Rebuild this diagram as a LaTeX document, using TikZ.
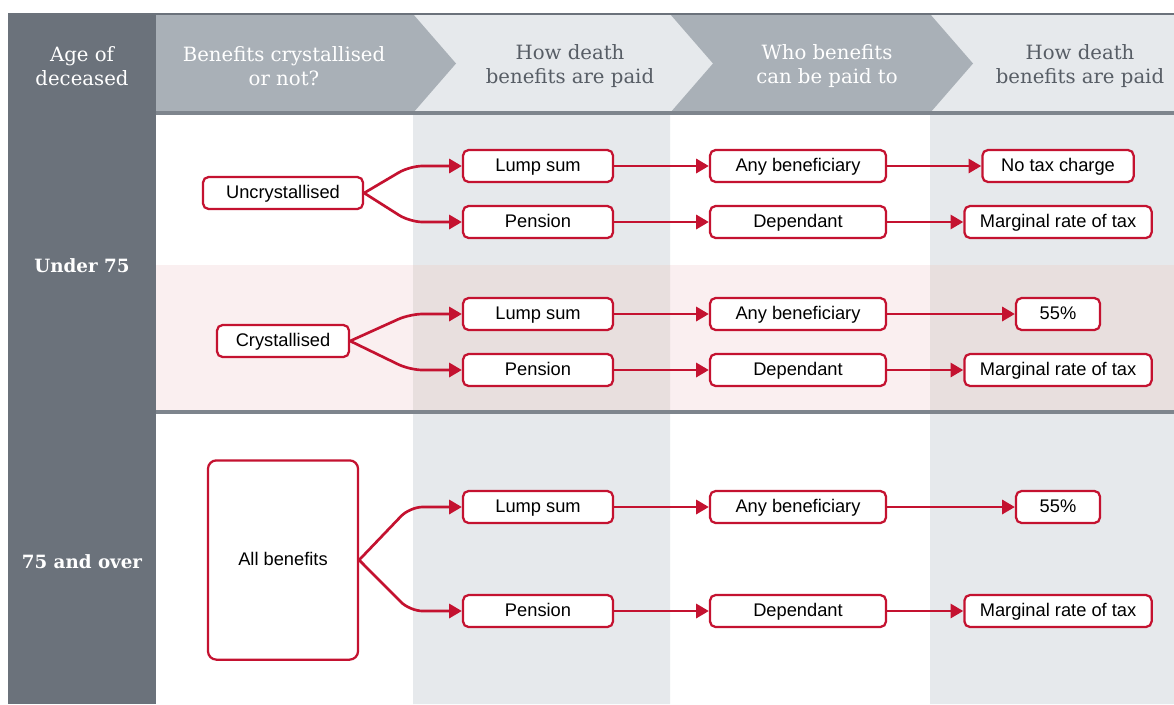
\documentclass[tikz,border=0pt]{standalone}
\usepackage{fontspec}
\setmainfont{Liberation Sans}
\newfontfamily\slab{DejaVu Serif}
\usetikzlibrary{arrows.meta}
\definecolor{dkgrey}{HTML}{6B727B}
\definecolor{mdgrey}{HTML}{A9B0B7}
\definecolor{ltgrey}{HTML}{E6E9EC}
\definecolor{rowpink}{HTML}{FAEFF0}
\definecolor{pinkgrey}{HTML}{E8DFDE}
\definecolor{boxred}{HTML}{C41230}
\definecolor{headtext}{HTML}{575D65}
\definecolor{rulegrey}{HTML}{7E858D}
\tikzset{
    box/.style={draw=boxred, line width=1.6pt, rounded corners=4pt, fill=white, minimum height=0.8cm, inner sep=0pt, text height=0.82em, text depth=0pt, font=\fontsize{13}{15}\selectfont},
    flow/.style={draw=boxred, line width=1.9pt, -{Triangle[length=9pt,width=10pt]}},
    fork/.style={flow, rounded corners=9pt},
    head/.style={font=\slab\fontsize{14}{17}\selectfont, align=center},
    side/.style={font=\slab\bfseries\fontsize{13}{16}\selectfont, text=white, align=center}
}

\begin{document}
\begin{tikzpicture}[x=0.025cm,y=-0.025cm]
            \useasboundingbox (0,0) rectangle (1174,704);
            \fill[white] (0,0) rectangle (1174,704);
            \fill[rowpink] (156,265) rectangle (1174,412);
            \fill[ltgrey] (413,113) rectangle (670,265) (930,113) rectangle (1174,265);
            \fill[pinkgrey] (413,265) rectangle (670,412) (930,265) rectangle (1174,412);
            \fill[ltgrey] (413,412) rectangle (670,704) (930,412) rectangle (1174,704);

            \fill[ltgrey] (156,14) rectangle (1174,113);
            \fill[mdgrey] (156,14)--(413,14)--(456,63.5)--(413,113)--(156,113)--cycle;
            \fill[mdgrey] (670,14)--(930,14)--(973,63.5)--(930,113)--(670,113)--(713,63.5)--cycle;
            \draw[dkgrey,line width=2pt] (8,14)--(1174,14);
            \draw[rulegrey,line width=2.2pt] (156,113)--(1174,113);
            \draw[rulegrey,line width=2.2pt] (156,412)--(1174,412);
            \fill[dkgrey] (8,14) rectangle (156,704);

            \node[head,text=white] (hage) at (82,66) {Age of\\deceased};
            \node[head,text=white] (hcryst) at (284,66) {Benefits crystallised\\or not?};
            \node[head,text=headtext] (hhow) at (570,66) {How death\\benefits are paid};
            \node[head,text=white] (hwho) at (827,66) {Who benefits\\can be paid to};
            \node[head,text=headtext] (htax) at (1080,66) {How death\\benefits are paid};
            \node[side] (under) at (82,266) {Under 75};
            \node[side] (over) at (82,562) {75 and over};

            \node[box,minimum width=4cm] (unc) at (283,193) {Uncrystallised};
            \node[box,minimum width=3.75cm] (lumpa) at (538,166) {Lump sum};
            \node[box,minimum width=3.75cm] (pena) at (538,222) {Pension};
            \node[box,minimum width=4.4cm] (anya) at (798,166) {Any beneficiary};
            \node[box,minimum width=4.4cm] (depa) at (798,222) {Dependant};
            \node[box,minimum width=3.78cm] (taxa) at (1058,166) {No tax charge};
            \node[box,minimum width=4.68cm] (marga) at (1058,222) {Marginal rate of tax};
            \draw[fork] (unc.east)--([xshift=-1.3cm]lumpa.west)--(lumpa.west);
            \draw[fork] (unc.east)--([xshift=-1.3cm]pena.west)--(pena.west);
            \draw[flow] (lumpa.east)--(anya.west);
            \draw[flow] (pena.east)--(depa.west);
            \draw[flow] (anya.east)--(taxa.west);
            \draw[flow] (depa.east)--(marga.west);

            \node[box,minimum width=3.3cm] (cry) at (283,341) {Crystallised};
            \node[box,minimum width=3.75cm] (lumpb) at (538,314) {Lump sum};
            \node[box,minimum width=3.75cm] (penb) at (538,370) {Pension};
            \node[box,minimum width=4.4cm] (anyb) at (798,314) {Any beneficiary};
            \node[box,minimum width=4.4cm] (depb) at (798,370) {Dependant};
            \node[box,minimum width=2.1cm] (taxb) at (1058,314) {55\%};
            \node[box,minimum width=4.68cm] (margb) at (1058,370) {Marginal rate of tax};
            \draw[fork] (cry.east)--([xshift=-1.3cm]lumpb.west)--(lumpb.west);
            \draw[fork] (cry.east)--([xshift=-1.3cm]penb.west)--(penb.west);
            \draw[flow] (lumpb.east)--(anyb.west);
            \draw[flow] (penb.east)--(depb.west);
            \draw[flow] (anyb.east)--(taxb.west);
            \draw[flow] (depb.east)--(margb.west);

            \node[box,minimum width=3.75cm,minimum height=4.98cm,rounded corners=6pt] (all) at (283,560) {All benefits};
            \node[box,minimum width=3.75cm] (lumpc) at (538,507) {Lump sum};
            \node[box,minimum width=3.75cm] (penc) at (538,611) {Pension};
            \node[box,minimum width=4.4cm] (anyc) at (798,507) {Any beneficiary};
            \node[box,minimum width=4.4cm] (depc) at (798,611) {Dependant};
            \node[box,minimum width=2.1cm] (taxc) at (1058,507) {55\%};
            \node[box,minimum width=4.68cm] (margc) at (1058,611) {Marginal rate of tax};
            \draw[fork] (all.east)--([xshift=-1.3cm]lumpc.west)--(lumpc.west);
            \draw[fork] (all.east)--([xshift=-1.3cm]penc.west)--(penc.west);
            \draw[flow] (lumpc.east)--(anyc.west);
            \draw[flow] (penc.east)--(depc.west);
            \draw[flow] (anyc.east)--(taxc.west);
            \draw[flow] (depc.east)--(margc.west);
\end{tikzpicture}
\end{document}
